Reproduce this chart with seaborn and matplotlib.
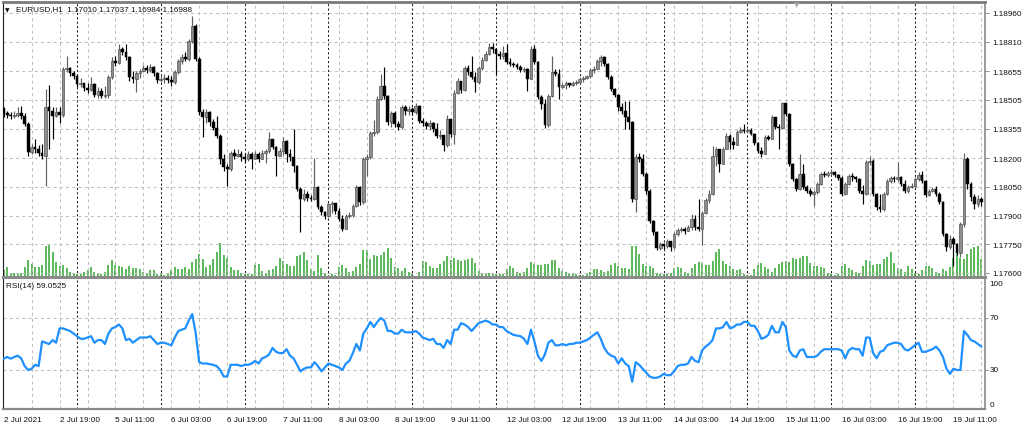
import numpy as np
import pandas as pd
import matplotlib
matplotlib.use("Agg")
import matplotlib.pyplot as plt
import matplotlib.transforms as mtransforms
import seaborn as sns

sns.set_theme(style="white")
plt.rcParams['font.family'] = ['Liberation Sans', 'DejaVu Sans']

# ---------------- data ----------------
symbol = "EURUSD,H1"
header_ohlc = [1.17010, 1.17037, 1.16984, 1.16988]
rsi_title = "RSI(14) 59.0525"

open_first = 1.18458
close = [
    1.18437, 1.18427, 1.18421, 1.18427, 1.18437, 1.18421, 1.18379, 1.18233, 1.18259, 1.18249,
    1.18228, 1.18212, 1.18468, 1.18448, 1.18421, 1.18442, 1.18427, 1.18667, 1.18672, 1.18646,
    1.18630, 1.18589, 1.18594, 1.18568, 1.18557, 1.18589, 1.18531, 1.18552, 1.18525, 1.18531,
    1.18625, 1.18709, 1.18698, 1.18772, 1.18756, 1.18730, 1.18625, 1.18615, 1.18646, 1.18657,
    1.18672, 1.18662, 1.18677, 1.18646, 1.18610, 1.18615, 1.18620, 1.18610, 1.18599, 1.18651,
    1.18709, 1.18730, 1.18719, 1.18814, 1.18891, 1.18719, 1.18442, 1.18416, 1.18442, 1.18389,
    1.18358, 1.18316, 1.18196, 1.18154, 1.18144, 1.18228, 1.18212, 1.18223, 1.18207, 1.18196,
    1.18223, 1.18196, 1.18223, 1.18196, 1.18228, 1.18238, 1.18301, 1.18259, 1.18212, 1.18238,
    1.18290, 1.18223, 1.18207, 1.18160, 1.18039, 1.17987, 1.18013, 1.17992, 1.17987, 1.18050,
    1.17945, 1.17919, 1.17898, 1.17961, 1.17966, 1.17925, 1.17882, 1.17830, 1.17898, 1.17904,
    1.17950, 1.18050, 1.17971, 1.18196, 1.18207, 1.18332, 1.18337, 1.18510, 1.18578, 1.18525,
    1.18389, 1.18437, 1.18379, 1.18363, 1.18468, 1.18448, 1.18458, 1.18442, 1.18473, 1.18395,
    1.18384, 1.18369, 1.18384, 1.18353, 1.18316, 1.18322, 1.18270, 1.18405, 1.18327, 1.18541,
    1.18604, 1.18557, 1.18672, 1.18651, 1.18625, 1.18599, 1.18672, 1.18714, 1.18746, 1.18782,
    1.18772, 1.18746, 1.18735, 1.18751, 1.18704, 1.18693, 1.18688, 1.18677, 1.18662, 1.18667,
    1.18615, 1.18772, 1.18704, 1.18520, 1.18484, 1.18374, 1.18525, 1.18651, 1.18641, 1.18573,
    1.18584, 1.18594, 1.18584, 1.18594, 1.18599, 1.18615, 1.18620, 1.18630, 1.18662, 1.18667,
    1.18709, 1.18730, 1.18693, 1.18625, 1.18562, 1.18531, 1.18468, 1.18448, 1.18416, 1.18389,
    1.17987, 1.18207, 1.18196, 1.18118, 1.18029, 1.17872, 1.17814, 1.17731, 1.17752, 1.17741,
    1.17768, 1.17736, 1.17804, 1.17825, 1.17830, 1.17820, 1.17840, 1.17882, 1.17840, 1.17830,
    1.17914, 1.17982, 1.18013, 1.18212, 1.18249, 1.18170, 1.18249, 1.18316, 1.18285, 1.18270,
    1.18337, 1.18348, 1.18343, 1.18348, 1.18327, 1.18280, 1.18238, 1.18223, 1.18311, 1.18301,
    1.18416, 1.18363, 1.18358, 1.18489, 1.18432, 1.18170, 1.18092, 1.18039, 1.18118, 1.18050,
    1.18029, 1.18013, 1.18023, 1.18065, 1.18118, 1.18112, 1.18123, 1.18128, 1.18112, 1.18097,
    1.18013, 1.18065, 1.18107, 1.18102, 1.18092, 1.18029, 1.18013, 1.18181, 1.18186, 1.18013,
    1.17945, 1.17935, 1.18013, 1.18081, 1.18097, 1.18092, 1.18102, 1.18065, 1.18029, 1.18050,
    1.18055, 1.18092, 1.18112, 1.18081, 1.18008, 1.18029, 1.18039, 1.18013, 1.17971, 1.17804,
    1.17736, 1.17778, 1.17752, 1.17705, 1.17856, 1.18196, 1.18065, 1.17997, 1.17961, 1.17987,
    1.17971,
]
high = [
    1.18468, 1.18448, 1.18442, 1.18448, 1.18468, 1.18473, 1.18437, 1.18389, 1.18275, 1.18301,
    1.18270, 1.18275, 1.18562, 1.18584, 1.18468, 1.18468, 1.18468, 1.18677, 1.18735, 1.18677,
    1.18657, 1.18636, 1.18620, 1.18594, 1.18594, 1.18625, 1.18594, 1.18573, 1.18568, 1.18578,
    1.18636, 1.18730, 1.18735, 1.18798, 1.18782, 1.18798, 1.18735, 1.18657, 1.18657, 1.18667,
    1.18688, 1.18688, 1.18693, 1.18682, 1.18651, 1.18636, 1.18641, 1.18636, 1.18630, 1.18662,
    1.18719, 1.18746, 1.18756, 1.18824, 1.18944, 1.18902, 1.18730, 1.18458, 1.18458, 1.18448,
    1.18405, 1.18421, 1.18327, 1.18223, 1.18170, 1.18238, 1.18249, 1.18249, 1.18238, 1.18228,
    1.18238, 1.18233, 1.18238, 1.18233, 1.18244, 1.18249, 1.18337, 1.18301, 1.18264, 1.18254,
    1.18311, 1.18296, 1.18249, 1.18353, 1.18165, 1.18050, 1.18039, 1.18029, 1.18008, 1.18201,
    1.18055, 1.17956, 1.17925, 1.17971, 1.17977, 1.17950, 1.17940, 1.17904, 1.17909, 1.17919,
    1.17961, 1.18060, 1.18055, 1.18207, 1.18223, 1.18343, 1.18400, 1.18525, 1.18641, 1.18677,
    1.18531, 1.18448, 1.18448, 1.18395, 1.18479, 1.18479, 1.18473, 1.18468, 1.18489, 1.18479,
    1.18411, 1.18395, 1.18400, 1.18389, 1.18384, 1.18348, 1.18322, 1.18427, 1.18405, 1.18557,
    1.18620, 1.18604, 1.18682, 1.18688, 1.18735, 1.18651, 1.18682, 1.18730, 1.18761, 1.18803,
    1.18803, 1.18761, 1.18761, 1.18787, 1.18798, 1.18725, 1.18704, 1.18698, 1.18688, 1.18677,
    1.18672, 1.18787, 1.18793, 1.18709, 1.18531, 1.18510, 1.18536, 1.18735, 1.18667, 1.18667,
    1.18594, 1.18604, 1.18594, 1.18604, 1.18610, 1.18625, 1.18630, 1.18636, 1.18672, 1.18682,
    1.18719, 1.18741, 1.18735, 1.18698, 1.18636, 1.18568, 1.18536, 1.18489, 1.18500, 1.18500,
    1.18395, 1.18223, 1.18228, 1.18223, 1.18128, 1.18039, 1.17877, 1.17820, 1.17762, 1.17757,
    1.17778, 1.17768, 1.17814, 1.17835, 1.17840, 1.17840, 1.17851, 1.17909, 1.17904, 1.17987,
    1.17925, 1.17992, 1.18034, 1.18264, 1.18259, 1.18223, 1.18259, 1.18332, 1.18327, 1.18311,
    1.18348, 1.18363, 1.18379, 1.18358, 1.18358, 1.18332, 1.18285, 1.18259, 1.18322, 1.18322,
    1.18427, 1.18416, 1.18379, 1.18494, 1.18489, 1.18437, 1.18175, 1.18097, 1.18223, 1.18170,
    1.18060, 1.18044, 1.18034, 1.18076, 1.18128, 1.18133, 1.18133, 1.18144, 1.18133, 1.18118,
    1.18107, 1.18076, 1.18118, 1.18123, 1.18107, 1.18097, 1.18060, 1.18191, 1.18212, 1.18196,
    1.18018, 1.18013, 1.18023, 1.18092, 1.18107, 1.18107, 1.18181, 1.18107, 1.18086, 1.18060,
    1.18071, 1.18102, 1.18128, 1.18133, 1.18086, 1.18039, 1.18050, 1.18055, 1.18023, 1.17977,
    1.17809, 1.17799, 1.17788, 1.17757, 1.17866, 1.18228, 1.18207, 1.18076, 1.18013, 1.18008,
    1.17997,
]
low = [
    1.18416, 1.18411, 1.18405, 1.18411, 1.18416, 1.18405, 1.18369, 1.18212, 1.18223, 1.18228,
    1.18212, 1.18196, 1.18055, 1.18249, 1.18301, 1.18416, 1.18384, 1.18416, 1.18651, 1.18630,
    1.18615, 1.18573, 1.18573, 1.18552, 1.18541, 1.18552, 1.18520, 1.18515, 1.18515, 1.18515,
    1.18515, 1.18615, 1.18682, 1.18693, 1.18741, 1.18714, 1.18604, 1.18594, 1.18546, 1.18620,
    1.18651, 1.18646, 1.18651, 1.18630, 1.18594, 1.18599, 1.18594, 1.18594, 1.18578, 1.18589,
    1.18641, 1.18693, 1.18709, 1.18709, 1.18803, 1.18709, 1.18427, 1.18311, 1.18384, 1.18369,
    1.18348, 1.18306, 1.18170, 1.18133, 1.18055, 1.18133, 1.18196, 1.18207, 1.18186, 1.18181,
    1.18186, 1.18144, 1.18196, 1.18181, 1.18207, 1.18175, 1.18228, 1.18249, 1.18107, 1.18212,
    1.18217, 1.18181, 1.18186, 1.18128, 1.18029, 1.17814, 1.17977, 1.17977, 1.17977, 1.17982,
    1.17935, 1.17904, 1.17882, 1.17893, 1.17914, 1.17909, 1.17872, 1.17820, 1.17851, 1.17888,
    1.17893, 1.17945, 1.17956, 1.17961, 1.18107, 1.18196, 1.18316, 1.18327, 1.18505, 1.18510,
    1.18374, 1.18363, 1.18363, 1.18348, 1.18353, 1.18427, 1.18427, 1.18427, 1.18432, 1.18384,
    1.18369, 1.18353, 1.18348, 1.18337, 1.18306, 1.18301, 1.18238, 1.18259, 1.18311, 1.18275,
    1.18536, 1.18541, 1.18552, 1.18636, 1.18615, 1.18546, 1.18589, 1.18662, 1.18709, 1.18741,
    1.18751, 1.18641, 1.18719, 1.18719, 1.18693, 1.18682, 1.18677, 1.18667, 1.18651, 1.18651,
    1.18552, 1.18615, 1.18693, 1.18510, 1.18458, 1.18358, 1.18363, 1.18520, 1.18630, 1.18510,
    1.18568, 1.18562, 1.18573, 1.18578, 1.18584, 1.18589, 1.18599, 1.18615, 1.18620, 1.18646,
    1.18667, 1.18682, 1.18682, 1.18615, 1.18552, 1.18520, 1.18448, 1.18432, 1.18353, 1.18353,
    1.17971, 1.17919, 1.18181, 1.18107, 1.18013, 1.17861, 1.17799, 1.17721, 1.17721, 1.17726,
    1.17731, 1.17715, 1.17726, 1.17793, 1.17814, 1.17804, 1.17820, 1.17825, 1.17825, 1.17820,
    1.17747, 1.17909, 1.17966, 1.18008, 1.18160, 1.18128, 1.18186, 1.18249, 1.18249, 1.18249,
    1.18290, 1.18332, 1.18332, 1.18332, 1.18322, 1.18270, 1.18228, 1.18207, 1.18223, 1.18296,
    1.18301, 1.18353, 1.18249, 1.18353, 1.18421, 1.18160, 1.18081, 1.18029, 1.18034, 1.18039,
    1.18018, 1.18003, 1.17950, 1.18013, 1.18060, 1.18102, 1.18102, 1.18112, 1.18102, 1.18086,
    1.18003, 1.18008, 1.18060, 1.18081, 1.18076, 1.18018, 1.17961, 1.18008, 1.18165, 1.18003,
    1.17930, 1.17919, 1.17925, 1.18008, 1.18071, 1.18076, 1.18081, 1.18055, 1.18018, 1.18018,
    1.18044, 1.18044, 1.18081, 1.18071, 1.17997, 1.18003, 1.18023, 1.18003, 1.17961, 1.17793,
    1.17715, 1.17726, 1.17637, 1.17694, 1.17684, 1.17840, 1.18039, 1.17977, 1.17935, 1.17945,
    1.17950,
]
tick_volume = [
    7, 10, 4, 4, 4, 4, 10, 17, 13, 10,
    10, 12, 31, 33, 25, 15, 11, 12, 9, 5,
    4, 3, 3, 5, 7, 10, 5, 3, 3, 5,
    12, 17, 12, 11, 10, 8, 11, 9, 9, 8,
    5, 4, 7, 7, 3, 3, 2, 4, 7, 10,
    8, 8, 10, 8, 15, 18, 23, 18, 10, 12,
    18, 25, 34, 22, 19, 10, 7, 7, 4, 3,
    3, 3, 12, 13, 6, 4, 7, 8, 11, 19,
    16, 13, 11, 11, 21, 22, 25, 17, 8, 6,
    22, 9, 4, 1, 3, 2, 10, 12, 9, 5,
    6, 10, 13, 27, 27, 18, 22, 21, 22, 25,
    29, 19, 10, 9, 6, 9, 5, 3, 1, 5,
    16, 15, 11, 9, 9, 13, 16, 21, 17, 19,
    17, 16, 17, 18, 19, 14, 6, 4, 4, 4,
    3, 3, 3, 3, 8, 11, 9, 5, 4, 5,
    9, 15, 13, 12, 12, 13, 13, 17, 17, 9,
    6, 5, 4, 4, 3, 2, 2, 3, 5, 8,
    8, 7, 5, 6, 12, 14, 11, 9, 9, 8,
    31, 31, 23, 13, 11, 11, 9, 4, 3, 3,
    3, 4, 9, 10, 9, 5, 4, 9, 13, 15,
    14, 12, 12, 16, 25, 28, 16, 13, 11, 8,
    7, 8, 3, 2, 2, 8, 12, 14, 10, 8,
    5, 9, 13, 15, 16, 15, 19, 18, 19, 21,
    21, 14, 11, 11, 10, 9, 4, 3, 2, 3,
    11, 13, 9, 7, 5, 4, 11, 17, 16, 12,
    13, 13, 18, 20, 25, 14, 9, 8, 5, 11,
    8, 4, 3, 7, 11, 11, 9, 5, 4, 8,
    6, 10, 19, 23, 19, 18, 23, 28, 30, 31,
    18,
]
rsi = [
    38.7, 40, 38.7, 40, 41, 39, 33, 30, 31, 34,
    33, 52, 51, 50, 53, 51, 62, 62, 61, 60,
    58, 56, 54, 54, 55, 56, 51, 53, 53, 50,
    58, 62, 63, 65, 62, 53, 54, 51, 53, 55,
    55, 55, 56, 53, 50, 51, 51, 50, 49, 55,
    60, 61, 62, 68, 73, 58, 36, 35, 35, 34.5,
    34, 33, 30, 25, 25, 34, 34, 34, 33, 34,
    34, 35, 37, 35, 39, 40, 42, 47, 44, 43,
    43, 46, 41, 39, 34, 29, 31, 32, 32, 36,
    33, 29, 32, 35, 34, 33, 32, 30, 35, 37,
    43, 50, 45, 58, 62, 67, 63, 67, 70, 68,
    60, 60, 58, 58, 61, 59, 59, 59, 60, 58,
    55, 54, 53, 54, 50, 50, 47, 53, 50, 61,
    61, 66, 65, 63, 60, 63, 66, 67, 68, 67,
    65, 65, 63, 63, 60, 58.5, 57, 56.5, 56, 54,
    50, 61, 52, 41, 37, 42, 51, 53, 49, 49,
    50, 49, 50, 50, 51, 51, 52, 53, 55, 57,
    59, 54, 47, 43, 41, 40, 35, 39, 35, 33,
    21, 36, 34, 31, 28, 25, 24, 24, 25, 27,
    26, 26, 29, 33, 34, 34, 35, 40, 37, 36,
    45, 48, 50, 53, 62, 62, 63, 67, 62, 63,
    65, 65, 67, 67, 64, 64, 60, 54, 55, 57,
    64, 59, 59, 67, 63, 45, 41, 40, 45, 46,
    40, 40, 40, 41, 44, 46, 46, 46, 46, 46,
    45, 39, 45, 47, 46, 46, 41, 55, 55, 43,
    39, 44, 45, 49, 50, 51, 51, 50, 46, 45,
    47, 49, 51, 44, 44, 45, 46, 48, 45, 40,
    31, 27, 31, 30, 30, 60, 57, 53, 52, 50,
    48,
]
price_ticks = [1.17600, 1.17750, 1.17900, 1.18050, 1.18200, 1.18355, 1.18505, 1.18655, 1.18810, 1.18960]
rsi_levels = [0, 30, 70, 100]

# hourly bars without weekends
times = pd.date_range("2021-07-02 03:00", "2021-07-19 19:00", freq="h")
times = times[times.dayofweek < 5]

df = pd.DataFrame({"time": times, "close": close, "high": high, "low": low,
                   "volume": tick_volume, "rsi": rsi})
df["open"] = [open_first] + close[:-1]
df["bar"] = np.arange(len(df))
n = len(df)

label_bars = list(range(0, n, 16))
labels = ["2 Jul 2021" if i == 0 else f"{times[i].day} {times[i]:%b %H:%M}" for i in label_bars]
sep_bars = [i for i in range(1, n) if times[i].hour == 0]
grid_bars = [i for i in range(8, n, 8)]

# ---------------- figure ----------------
W, H = 1024, 427
fig = plt.figure(figsize=(W / 100, H / 100), dpi=100)
fig.patch.set_facecolor("white")


def rect(l, t, r, b):
    return [l / W, 1 - b / H, (r - l) / W, (b - t) / H]


ax = fig.add_axes(rect(3, 3, 985, 278))
axr = fig.add_axes(rect(3, 280, 985, 410), sharex=ax)
axv = ax.twinx()
ax.set_zorder(axv.get_zorder() + 1)
ax.patch.set_visible(False)

px_per_bar = 3.4917
x_first = 3.7
ax.set_xlim((3 - x_first) / px_per_bar, (985 - x_first) / px_per_bar)

grid_c = "#c0c0c0"
for a in (ax, axr):
    for i in grid_bars:
        if i not in sep_bars:
            a.axvline(i, color=grid_c, lw=0.75, ls=(0, (3, 3)), zorder=0.5)
    for i in sep_bars:
        a.axvline(i, color="#1a1a1a", lw=0.75, ls=(0, (2, 2.2)), zorder=0.6)
for p in price_ticks:
    ax.axhline(p, color=grid_c, lw=0.75, ls=(0, (3, 3)), zorder=0.5)
for v in (30, 70):
    axr.axhline(v, color=grid_c, lw=0.75, ls=(0, (3, 3)), zorder=0.5)

# volumes
axv.vlines(df["bar"], 0, df["volume"], colors="#2fa52f", lw=1.1)
axv.set_ylim(0, 275)
axv.set_yticks([])
for s in axv.spines.values():
    s.set_visible(False)

# candles
o = df["open"].to_numpy()
c = df["close"].to_numpy()
hi = np.maximum(df["high"].to_numpy(), np.maximum(o, c))
lo = np.minimum(df["low"].to_numpy(), np.minimum(o, c))
up = c > o
idx = df["bar"].to_numpy()
body_lo = np.minimum(o, c)
body_h = np.maximum(np.abs(c - o), 0.00003)
ax.vlines(idx[up], lo[up], hi[up], colors="#5e5e5e", lw=0.85, zorder=3)
ax.vlines(idx[~up], lo[~up], hi[~up], colors="#000000", lw=0.85, zorder=3)
ax.bar(idx[up], body_h[up], bottom=body_lo[up], width=0.78, color="#8e8e8e",
       edgecolor="#4a4a4a", linewidth=0.45, zorder=4)
ax.bar(idx[~up], body_h[~up], bottom=body_lo[~up], width=0.78, color="#000000",
       edgecolor="#000000", linewidth=0.3, zorder=4)

ax.set_ylim(1.17579, 1.19017)
ax.yaxis.tick_right()
ax.set_yticks(price_ticks)
ax.set_yticklabels([f"{p:.5f}" for p in price_ticks])
ax.tick_params(axis="y", length=3, width=0.6, color="#808080", labelsize=5.9,
               labelcolor="#111111", pad=2)
ax.tick_params(axis="x", bottom=False, labelbottom=False)

# RSI
sns.lineplot(data=df, x="bar", y="rsi", ax=axr, color="#1e90ff", lw=1.6, zorder=3)
axr.set_ylim(0, 100)
axr.set_yticks([])
axr.set_xlabel("")
axr.set_ylabel("")
ax.set_xlabel("")
ax.set_ylabel("")
trans = mtransforms.blended_transform_factory(axr.transAxes, axr.transData)
rsi_label_pos = {100: 96.5, 70: 70, 30: 30, 0: 3.5}
for v in rsi_levels:
    axr.text(1.005, rsi_label_pos[v], str(v), transform=trans, fontsize=5.9,
             color="#111111", va="center", ha="left")
    if v in (30, 70):
        axr.plot([1.0, 1.003], [v, v], transform=trans, color="#808080", lw=0.6, clip_on=False)

axr.set_xticks(label_bars)
axr.set_xticklabels(labels, ha="left", fontsize=5.9, color="#111111")
axr.tick_params(axis="x", length=3, width=0.6, color="#808080", pad=2)

# spines
for a in (ax, axr):
    a.spines["left"].set_color("#202020")
    a.spines["left"].set_linewidth(0.8)
    a.spines["right"].set_color("#8a8a8a")
    a.spines["right"].set_linewidth(1.2)
ax.spines["top"].set_color("#7a7a7a")
ax.spines["top"].set_linewidth(2.0)
ax.spines["bottom"].set_color("#8a8a8a")
ax.spines["bottom"].set_linewidth(2.2)
axr.spines["top"].set_visible(False)
axr.spines["bottom"].set_color("#8a8a8a")
axr.spines["bottom"].set_linewidth(1.6)

# header texts
fig.text(5 / W, 1 - 10.5 / H, "\u25BC", fontsize=4.2, color="#111111", va="center",
         family=["DejaVu Sans"])
fig.text(16 / W, 1 - 10 / H, f"{symbol}  " + " ".join(f"{v:.5f}" for v in header_ohlc),
         fontsize=5.9, color="#111111", va="center")
fig.text(797 / W, 1 - 5.5 / H, "\u25BC", fontsize=5, color="#a8a8a8", va="center",
         ha="center", family=["DejaVu Sans"])
fig.text(6 / W, 1 - 287 / H, rsi_title, fontsize=5.9, color="#111111", va="center")

fig.savefig("out.png", dpi=100)
